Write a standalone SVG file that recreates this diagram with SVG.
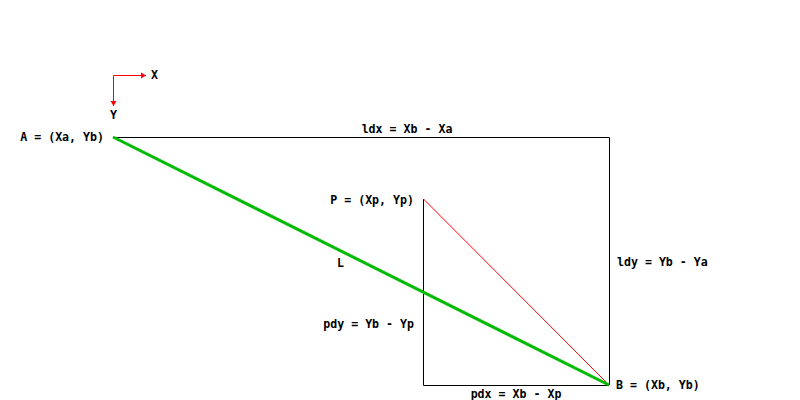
<svg xmlns="http://www.w3.org/2000/svg" width="800" height="400" viewBox="0 0 800 400">
<style>
text{font-family:"DejaVu Sans Mono","Liberation Mono",monospace;font-weight:bold;font-size:11.6px;fill:#000}
.blk{stroke:#000;stroke-width:1;fill:none}
</style>
<rect width="800" height="400" fill="#fff"/>
<g id="axes">
<path d="M113.5,106 L113.5,75.5 L146,75.5" fill="none" stroke="#f00" stroke-width="1"/>
<path d="M141,72.5 L146,75.5 L141,78.5 Z" fill="#f00"/>
<path d="M110.5,101 L113.5,106 L116.5,101 Z" fill="#f00"/>
<text x="151" y="79">X</text>
<text x="110" y="119">Y</text>
</g>
<g id="connectors">
<path class="blk" d="M113,137.5 H609.5 V385"/>
<path class="blk" d="M423.5,199 V385.5 H609"/>
<line x1="423.5" y1="199" x2="609" y2="385" stroke="#f00" stroke-width="1"/>
<line x1="113" y1="137" x2="609" y2="385" stroke="#00bb00" stroke-width="3"/>
</g>
<g id="A"><text x="104" y="141" text-anchor="end">A = (Xa, Yb)</text></g>
<g id="ldx"><text x="407" y="133" text-anchor="middle">ldx = Xb - Xa</text></g>
<g id="P"><text x="414" y="204" text-anchor="end">P = (Xp, Yp)</text></g>
<g id="L"><text x="337" y="267">L</text></g>
<g id="ldy"><text x="617" y="266">ldy = Yb - Ya</text></g>
<g id="pdy"><text x="414" y="328" text-anchor="end">pdy = Yb - Yp</text></g>
<g id="pdx"><text x="516" y="398" text-anchor="middle">pdx = Xb - Xp</text></g>
<g id="B"><text x="616" y="389">B = (Xb, Yb)</text></g>
</svg>
